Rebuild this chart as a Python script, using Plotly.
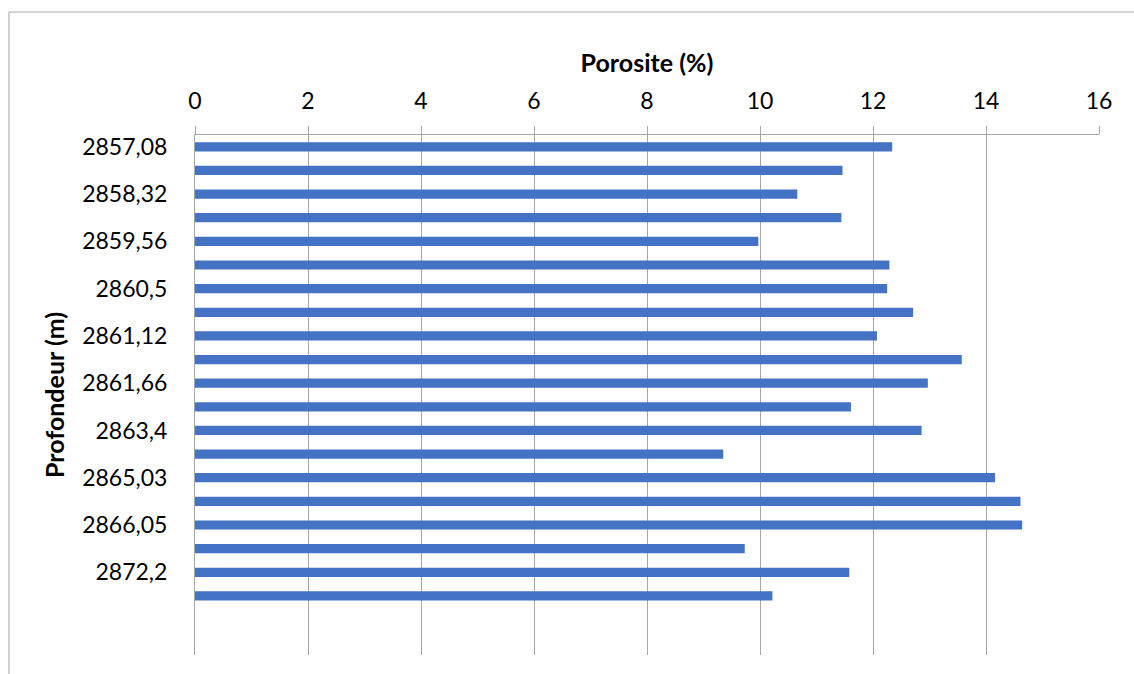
import plotly.graph_objects as go

depths = ["2857,08", "2857,70", "2858,32", "2858,94", "2859,56", "2860,03",
          "2860,5", "2860,81", "2861,12", "2861,39", "2861,66", "2862,53",
          "2863,4", "2864,2", "2865,03", "2865,54", "2866,05", "2869,12",
          "2872,2", "2873,5"]
porosite = [12.34, 11.46, 10.66, 11.44, 9.97, 12.29, 12.25, 12.71, 12.07, 13.57,
            12.97, 11.61, 12.86, 9.35, 14.16, 14.61, 14.64, 9.73, 11.58, 10.22]
x_ticks = [0, 2, 4, 6, 8, 10, 12, 14, 16]
shown_labels = depths[::2]

GRID = "#a6a6a6"
FONT = "Lato"

fig = go.Figure(go.Bar(
    x=porosite, y=depths, orientation="h",
    marker=dict(color="#4472C4", line=dict(width=0)),
))

fig.update_layout(
    width=1134, height=674,
    margin=dict(l=195, r=35, t=135, b=19),
    paper_bgcolor="white", plot_bgcolor="white",
    bargap=0.61,
    showlegend=False,
    font=dict(family=FONT, size=23, color="black"),
    xaxis=dict(
        side="top", range=[0, 16], tickvals=x_ticks,
        showgrid=True, gridcolor=GRID, gridwidth=1,
        showline=True, linecolor=GRID, linewidth=1,
        ticks="outside", ticklen=8, tickcolor=GRID, tickwidth=1,
        zeroline=False, ticklabelstandoff=8,
        tickfont=dict(family=FONT, size=23),
        title=dict(text="<b>Porosite (%)</b>", font=dict(family=FONT, size=25), standoff=6),
    ),
    yaxis=dict(
        type="category", categoryorder="array", categoryarray=depths,
        range=[21.5, -0.5],
        tickvals=shown_labels,
        showgrid=False, showline=True, linecolor=GRID, linewidth=1,
        ticks="", ticklabelstandoff=22,
        tickfont=dict(family=FONT, size=23),
        title=dict(text="<b>Profondeur (m)</b>", font=dict(family=FONT, size=25), standoff=10),
    ),
    shapes=[dict(type="rect", xref="paper", yref="paper",
                 x0=-0.2058, x1=1.06, y0=-0.06, y1=1.2365,
                 line=dict(color=GRID, width=1), fillcolor="rgba(0,0,0,0)", layer="below")],
)

fig.write_html("out.html")
